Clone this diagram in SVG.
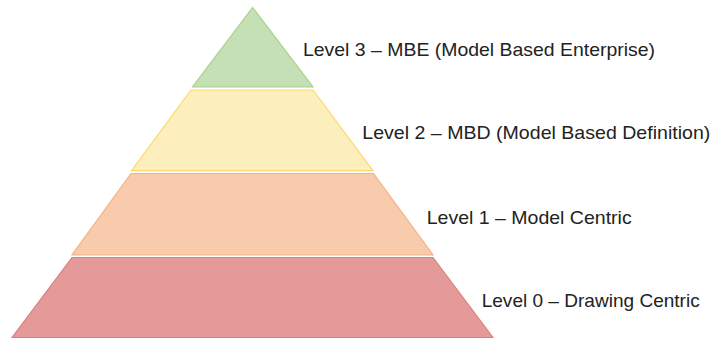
<svg xmlns="http://www.w3.org/2000/svg" width="716" height="338" viewBox="0 0 716 338">
<style>
.lbl{font-family:"Liberation Sans","Noto Sans",Arial,sans-serif;font-size:19px;fill:#222222}
.band{stroke-width:1.2;stroke-linejoin:miter}
</style>
<rect width="716" height="338" fill="#ffffff"/>
<g id="level3">
<polygon class="band" points="252.6,7.5 313,87 192.5,87" fill="#c5e0b4" stroke="#a9d18e"/>
<text class="lbl" x="303" y="55.5" textLength="352" lengthAdjust="spacingAndGlyphs">Level 3 – MBE (Model Based Enterprise)</text>
</g>
<g id="level2">
<polygon class="band" points="191,90 313,90 373,170.7 131.5,170.7" fill="#fdefbd" stroke="#ffd966"/>
<text class="lbl" x="362.3" y="138.5" textLength="348" lengthAdjust="spacingAndGlyphs">Level 2 – MBD (Model Based Definition)</text>
</g>
<g id="level1">
<polygon class="band" points="131,173.5 373.5,173.5 433,255 72,255" fill="#f8cbad" stroke="#f4b183"/>
<text class="lbl" x="426.7" y="223.5" textLength="205" lengthAdjust="spacingAndGlyphs">Level 1 – Model Centric</text>
</g>
<g id="level0">
<polygon class="band" points="72,257.5 433,257.5 493,337.5 12,337.5" fill="#e59a9a" stroke="#d98080"/>
<text class="lbl" x="481.7" y="307" textLength="218" lengthAdjust="spacingAndGlyphs">Level 0 – Drawing Centric</text>
</g>
<g id="connectors"></g>
</svg>
